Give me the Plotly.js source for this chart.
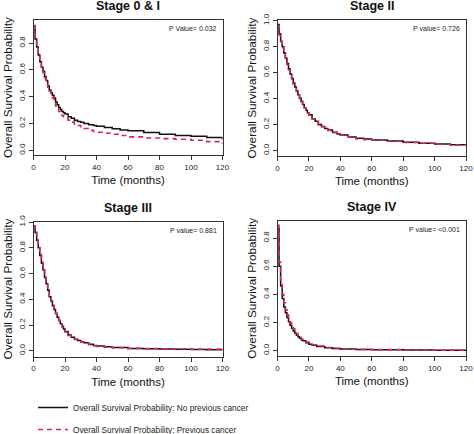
<!DOCTYPE html>
<html>
<head>
<meta charset="utf-8">
<script src="https://cdn.plot.ly/plotly-3.0.1.min.js"></script>
<style>html,body{margin:0;padding:0;background:#fff;}#chart{width:474px;height:434px;}</style>
</head>
<body>
<div id="chart"></div>
<script>
// ---- data (months, survival probability) ----
const panelTitles = ["Stage 0 & I", "Stage II", "Stage III", "Stage IV"];
const pValues = ["P Value= 0.032", "P value= 0.726", "P value= 0.881", "P value= <0.001"];
const seriesNames = ["Overall Survival Probability: No previous cancer",
                     "Overall Survival Probability: Previous cancer"];
const xTicks = [0, 20, 40, 60, 80, 100, 120];

const stage1Time   = [0,1,2,3,4,5,6,7,8,9,10,11,12,13,14,15,16,17,18,19,20,22,24,26,28,30,32,35,38,40,45,50,55,60,70,80,90,100,110,120];
const stage1NoPrev = [0.93,0.83,0.77,0.71,0.66,0.62,0.59,0.55,0.52,0.48,0.45,0.43,0.41,0.39,0.36,0.34,0.32,0.305,0.29,0.28,0.27,0.25,0.24,0.225,0.215,0.21,0.20,0.19,0.185,0.18,0.17,0.16,0.152,0.145,0.133,0.12,0.11,0.104,0.095,0.08];
const stage1Prev   = [0.93,0.82,0.76,0.70,0.65,0.61,0.58,0.54,0.50,0.47,0.44,0.41,0.39,0.36,0.33,0.31,0.29,0.275,0.26,0.25,0.24,0.225,0.21,0.195,0.185,0.17,0.163,0.15,0.14,0.135,0.127,0.12,0.11,0.10,0.092,0.087,0.083,0.075,0.065,0.045];

const stage2Time   = [0,1,2,3,4,5,6,7,8,9,10,11,12,13,14,15,16,17,18,19,20,22,24,26,28,30,32,35,38,40,45,50,55,60,70,80,90,100,110,120];
const stage2NoPrev = [0.97,0.90,0.84,0.80,0.75,0.71,0.67,0.63,0.59,0.555,0.52,0.49,0.46,0.43,0.405,0.38,0.355,0.33,0.31,0.29,0.275,0.245,0.225,0.20,0.185,0.17,0.158,0.14,0.127,0.12,0.105,0.095,0.088,0.082,0.073,0.064,0.057,0.05,0.044,0.038];
const stage2Prev   = [0.96,0.89,0.84,0.79,0.74,0.70,0.66,0.62,0.58,0.54,0.51,0.48,0.455,0.43,0.40,0.375,0.35,0.33,0.31,0.29,0.272,0.243,0.222,0.198,0.183,0.168,0.155,0.138,0.125,0.118,0.103,0.09,0.083,0.08,0.072,0.063,0.056,0.049,0.043,0.036];

const stage3Time   = [0,1,2,3,4,5,6,7,8,9,10,11,12,13,14,15,16,17,18,19,20,22,24,26,28,30,32,35,38,40,45,50,60,70,80,90,100,110,120];
const stage3NoPrev = [0.97,0.92,0.86,0.80,0.74,0.68,0.63,0.57,0.52,0.47,0.42,0.385,0.35,0.32,0.29,0.26,0.235,0.21,0.19,0.168,0.15,0.122,0.105,0.09,0.08,0.07,0.062,0.05,0.041,0.036,0.03,0.025,0.018,0.015,0.013,0.011,0.01,0.007,0.003];
const stage3Prev   = [0.97,0.93,0.87,0.81,0.75,0.69,0.64,0.58,0.53,0.48,0.43,0.39,0.355,0.32,0.29,0.26,0.235,0.21,0.185,0.165,0.145,0.118,0.102,0.087,0.077,0.067,0.06,0.047,0.039,0.034,0.028,0.024,0.018,0.016,0.014,0.013,0.012,0.012,0.004];

const stage4Time   = [0,1,2,3,4,5,6,7,8,9,10,11,12,13,14,15,16,18,20,22,25,30,35,40,50,60,80,100,120];
const stage4NoPrev = [0.87,0.60,0.46,0.37,0.31,0.27,0.235,0.205,0.18,0.16,0.14,0.125,0.11,0.098,0.088,0.078,0.07,0.057,0.046,0.038,0.03,0.02,0.015,0.011,0.008,0.006,0.004,0.003,0.002];
const stage4Prev   = [0.89,0.63,0.50,0.40,0.34,0.29,0.255,0.225,0.20,0.175,0.155,0.137,0.12,0.107,0.095,0.085,0.077,0.062,0.05,0.041,0.033,0.022,0.016,0.012,0.009,0.007,0.005,0.004,0.003];

const panelTimes = [stage1Time, stage2Time, stage3Time, stage4Time];
const panelNoPrev = [stage1NoPrev, stage2NoPrev, stage3NoPrev, stage4NoPrev];
const panelPrev = [stage1Prev, stage2Prev, stage3Prev, stage4Prev];
const yTickSets = [[0,0.2,0.4,0.6,0.8],[0,0.2,0.4,0.6,0.8,1.0],[0,0.2,0.4,0.6,0.8,1.0],[0,0.2,0.4,0.6,0.8]];
const yRanges = [[-0.035,0.972],[-0.042,1.005],[-0.045,1.005],[-0.038,0.925]];

// ---- layout geometry ----
const W = 474, H = 434;
const xDomains = [[33.5/W, 222.5/W],[277.5/W, 466/W],[33.5/W, 222.5/W],[277.5/W, 466/W]];
const yDomains = [[1-155/H, 1-20/H],[1-156/H, 1-20/H],[1-356.5/H, 1-221.5/H],[1-356/H, 1-220.5/H]];

const BLACK = "#111111";
const RED = "#dc2648";
const FONT = "Liberation Sans, Arial, Helvetica, sans-serif";

const traces = [];
const layout = {
  width: W, height: H, autosize: false,
  margin: {l:0, r:0, t:0, b:0, autoexpand: false},
  paper_bgcolor: "#fff", plot_bgcolor: "#fff",
  font: {family: FONT, color: "#222"},
  showlegend: true,
  legend: {
    x: 33/W, y: 1-393/H, xanchor: "left", yanchor: "top",
    font: {family: FONT, size: 8.3, color: "#222"},
    traceorder: "grouped", tracegroupgap: 3,
    bgcolor: "rgba(0,0,0,0)", borderwidth: 0
  },
  annotations: [],
};

for (let i = 0; i < 4; i++) {
  const sfx = i === 0 ? "" : String(i + 1);
  const xa = "x" + sfx, ya = "y" + sfx;
  traces.push({
    type: "scatter", mode: "lines", x: panelTimes[i], y: panelNoPrev[i],
    xaxis: xa, yaxis: ya, name: seriesNames[0], legendgroup: "a",
    showlegend: i === 0,
    line: {color: BLACK, width: 1.5, shape: "hv"}
  });
  traces.push({
    type: "scatter", mode: "lines", x: panelTimes[i], y: panelPrev[i],
    xaxis: xa, yaxis: ya, name: seriesNames[1], legendgroup: "b",
    showlegend: i === 0,
    line: {color: RED, width: 1.6, shape: "hv", dash: "5px,4px"}
  });
  layout["xaxis" + sfx] = {
    domain: xDomains[i], anchor: ya, range: [0, 120],
    tickvals: xTicks, ticks: "outside", ticklen: 4, tickwidth: 1, tickcolor: "#333",
    tickfont: {family: FONT, size: 8, color: "#222"},
    showgrid: false, zeroline: false,
    showline: true, mirror: true, linecolor: "#333", linewidth: 1,
    title: {text: "Time (months)", font: {family: FONT, size: 11.5, color: "#111"}, standoff: 5}
  };
  layout["yaxis" + sfx] = {
    domain: yDomains[i], anchor: xa, range: yRanges[i],
    tickvals: yTickSets[i], tickformat: ".1f", tickangle: -90,
    ticks: "outside", ticklen: 4, tickwidth: 1, tickcolor: "#333",
    tickfont: {family: FONT, size: 8, color: "#222"},
    showgrid: false, zeroline: false,
    showline: true, mirror: true, linecolor: "#333", linewidth: 1,
    title: {text: "Overall Survival Probability", font: {family: FONT, size: 11.8, color: "#111"}, standoff: 3}
  };
  const cx = (xDomains[i][0] + xDomains[i][1]) / 2;
  layout.annotations.push({
    text: "<b>" + panelTitles[i] + "</b>", xref: "paper", yref: "paper",
    x: cx, y: yDomains[i][1] + 14/H, xanchor: "center", yanchor: "middle",
    showarrow: false, font: {family: FONT, size: 12.5, color: "#111"}
  });
  layout.annotations.push({
    text: pValues[i], xref: "paper", yref: "paper",
    x: xDomains[i][1] - 4/W, y: yDomains[i][1] - 9/H, xanchor: "right", yanchor: "middle",
    showarrow: false, font: {family: FONT, size: 7, color: "#222"}
  });
}

Plotly.newPlot("chart", traces, layout, {displayModeBar: false, staticPlot: true});
</script>
</body>
</html>
